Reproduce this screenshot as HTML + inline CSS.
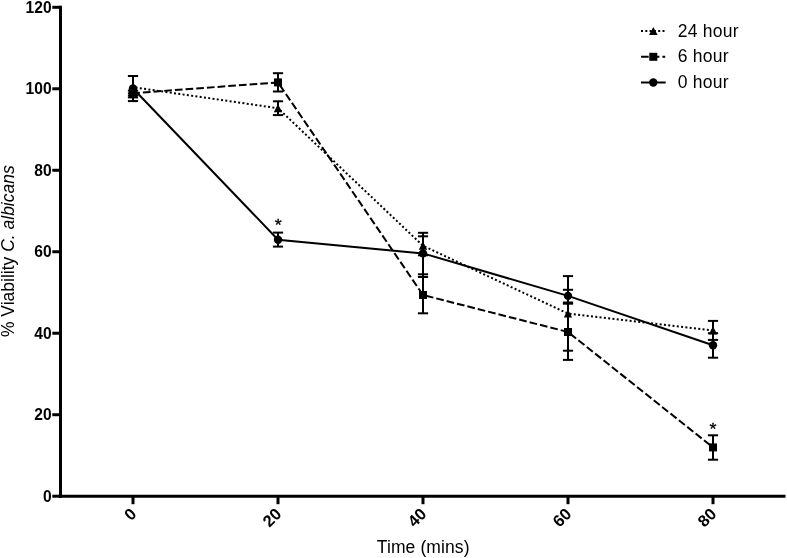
<!DOCTYPE html>
<html lang="en">
<head>
<meta charset="utf-8">
<title>% Viability C. albicans vs Time (mins)</title>
<style>
html,body{margin:0;padding:0;background:#fff;}
body{width:787px;height:558px;overflow:hidden;}
svg{display:block;will-change:transform;}
text{font-family:"Liberation Sans", Arial, Helvetica, sans-serif;fill:#000;}
.tk{font-size:15.6px;font-weight:bold;}
.xt{font-size:16.5px;font-weight:bold;}
.lb{font-size:17.5px;}
.lg{letter-spacing:0.25px;}
.xl{letter-spacing:0.1px;}
.st{font-size:18px;stroke:#000;stroke-width:0.35px;}
</style>
</head>
<body>
<svg width="787" height="558" viewBox="0 0 787 558">
<rect width="787" height="558" fill="#fff"/>
<g stroke="#000" stroke-width="3" fill="none" stroke-linecap="butt">
<path d="M60.5 5.8 V497.7"/>
<path d="M59.0 496.2 H785.5"/>
<path d="M52.3 496.20 H60.5"/>
<path d="M52.3 414.72 H60.5"/>
<path d="M52.3 333.23 H60.5"/>
<path d="M52.3 251.75 H60.5"/>
<path d="M52.3 170.27 H60.5"/>
<path d="M52.3 88.78 H60.5"/>
<path d="M52.3 7.30 H60.5"/>
<path d="M133.0 496.2 V504.2"/>
<path d="M278.0 496.2 V504.2"/>
<path d="M423.0 496.2 V504.2"/>
<path d="M568.0 496.2 V504.2"/>
<path d="M713.0 496.2 V504.2"/>
</g>
<text class="tk" x="51.6" y="501.80" text-anchor="end">0</text>
<text class="tk" x="51.6" y="420.32" text-anchor="end">20</text>
<text class="tk" x="51.6" y="338.83" text-anchor="end">40</text>
<text class="tk" x="51.6" y="257.35" text-anchor="end">60</text>
<text class="tk" x="51.6" y="175.87" text-anchor="end">80</text>
<text class="tk" x="51.6" y="94.38" text-anchor="end">100</text>
<text class="tk" x="51.6" y="12.90" text-anchor="end">120</text>
<text class="xt" text-anchor="end" transform="translate(137.4 515) rotate(-45)">0</text>
<text class="xt" text-anchor="end" transform="translate(282.4 515) rotate(-45)">20</text>
<text class="xt" text-anchor="end" transform="translate(427.4 515) rotate(-45)">40</text>
<text class="xt" text-anchor="end" transform="translate(572.4 515) rotate(-45)">60</text>
<text class="xt" text-anchor="end" transform="translate(717.4 515) rotate(-45)">80</text>
<text class="lb xl" text-anchor="middle" x="423.2" y="552.5">Time (mins)</text>
<text class="lb" text-anchor="middle" transform="translate(13.8 251.2) rotate(-90)">% Viability <tspan font-style="italic">C. albicans</tspan></text>
<g fill="none" stroke="#000" stroke-width="2">
<polyline points="133.0,87.2 278.0,108.2 423.0,245.8 568.0,313.6 713.0,330.4" stroke-dasharray="2 2.32" stroke-dashoffset="1.76"/>
<path d="M133.0 93.2 L278.0 82.4" stroke-dasharray="7.7 3" stroke-dashoffset="0.8"/>
<path d="M278.0 82.4 L423.0 295.0" stroke-dasharray="7.7 3" stroke-dashoffset="7.4"/>
<path d="M423.0 295.0 L568.0 332.0" stroke-dasharray="7.7 3" stroke-dashoffset="7.7"/>
<path d="M568.0 332.0 L713.0 447.4" stroke-dasharray="7.7 3" stroke-dashoffset="8.1"/>
<polyline points="133.0,88.5 278.0,239.7 423.0,253.4 568.0,295.9 713.0,345.3"/>
</g>
<g stroke="#000" stroke-width="2" fill="none">
<path d="M133.0 76.0 V101.1"/>
<path d="M127.9 76.0 H138.1"/>
<path d="M127.9 90.6 H138.1"/>
<path d="M127.9 93.3 H138.1"/>
<path d="M127.9 95.5 H138.1"/>
<path d="M127.9 97.4 H138.1"/>
<path d="M127.9 101.1 H138.1"/>
<path d="M278.0 73.2 V91.5"/>
<path d="M272.9 73.2 H283.1"/>
<path d="M272.9 91.5 H283.1"/>
<path d="M278.0 101.3 V115.1"/>
<path d="M272.9 101.3 H283.1"/>
<path d="M272.9 115.1 H283.1"/>
<path d="M278.0 232.6 V246.6"/>
<path d="M272.9 232.6 H283.1"/>
<path d="M272.9 246.6 H283.1"/>
<path d="M423.0 232.8 V313.3"/>
<path d="M417.9 232.8 H428.1"/>
<path d="M417.9 236.3 H428.1"/>
<path d="M417.9 255.3 H428.1"/>
<path d="M417.9 274.3 H428.1"/>
<path d="M417.9 277.0 H428.1"/>
<path d="M417.9 313.3 H428.1"/>
<path d="M568.0 276.1 V359.9"/>
<path d="M562.9 276.1 H573.1"/>
<path d="M562.9 289.8 H573.1"/>
<path d="M562.9 302.5 H573.1"/>
<path d="M562.9 303.7 H573.1"/>
<path d="M562.9 350.7 H573.1"/>
<path d="M562.9 359.9 H573.1"/>
<path d="M713.0 320.9 V357.7"/>
<path d="M707.9 320.9 H718.1"/>
<path d="M707.9 333.2 H718.1"/>
<path d="M707.9 339.9 H718.1"/>
<path d="M707.9 357.7 H718.1"/>
<path d="M713.0 435.3 V459.7"/>
<path d="M707.9 435.3 H718.1"/>
<path d="M707.9 459.7 H718.1"/>
</g>
<g fill="#000" stroke="none">
<path d="M133.0 83.0 L137.2 91.2 L128.8 91.2 Z"/>
<path d="M278.0 104.0 L282.2 112.2 L273.8 112.2 Z"/>
<path d="M423.0 241.6 L427.2 249.8 L418.8 249.8 Z"/>
<path d="M568.0 309.4 L572.2 317.6 L563.8 317.6 Z"/>
<path d="M713.0 326.2 L717.2 334.4 L708.8 334.4 Z"/>
<rect x="129.0" y="89.2" width="8" height="8"/>
<rect x="274.0" y="78.4" width="8" height="8"/>
<rect x="419.0" y="291.0" width="8" height="8"/>
<rect x="564.0" y="328.0" width="8" height="8"/>
<rect x="709.0" y="443.4" width="8" height="8"/>
<circle cx="133.0" cy="88.5" r="4.2"/>
<circle cx="278.0" cy="239.7" r="4.2"/>
<circle cx="423.0" cy="253.4" r="4.2"/>
<circle cx="568.0" cy="295.9" r="4.2"/>
<circle cx="713.0" cy="345.3" r="4.2"/>
</g>
<text class="st" text-anchor="middle" transform="translate(278.3 231.4) scale(1 0.9)">*</text>
<text class="st" text-anchor="middle" transform="translate(713.1 434.7) scale(1 0.9)">*</text>
<g fill="none" stroke="#000" stroke-width="2">
<path d="M641 31.1 H665.2" stroke-dasharray="2 2.3"/>
<path d="M641 56.8 H665.2" stroke-dasharray="7.7 3"/>
<path d="M641 82.5 H665.7"/>
</g>
<g fill="#000">
<path d="M653.3 26.9 L657.6 35.1 L649.0 35.1 Z"/>
<rect x="649.3" y="52.8" width="8" height="8"/>
<circle cx="653.3" cy="82.5" r="4.2"/>
</g>
<text class="lb lg" x="677.7" y="36.6">24 hour</text>
<text class="lb lg" x="677.7" y="62.1">6 hour</text>
<text class="lb lg" x="677.7" y="87.9">0 hour</text>
</svg>
</body>
</html>
